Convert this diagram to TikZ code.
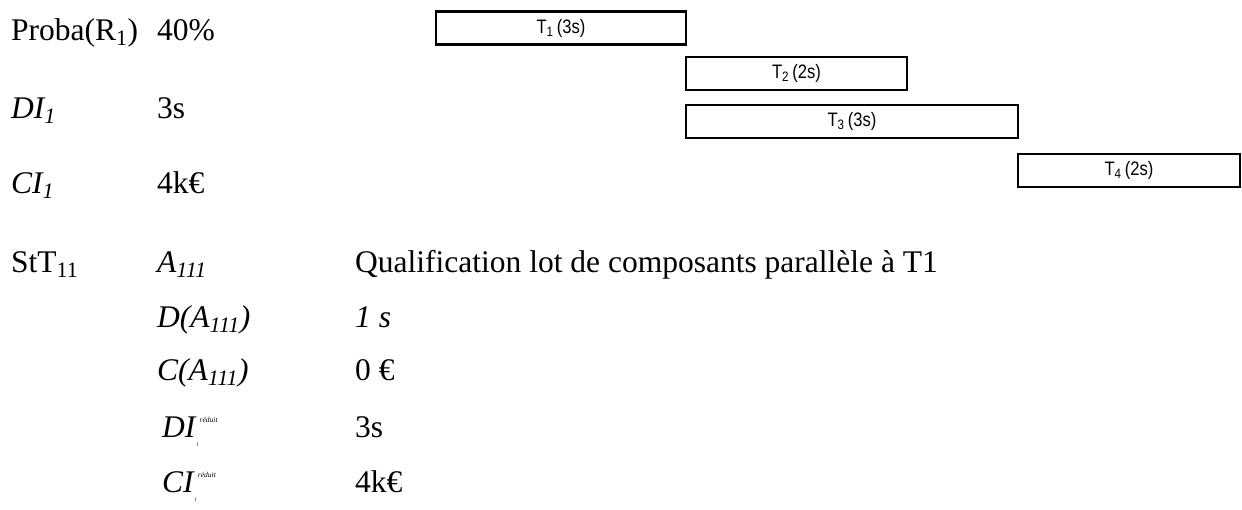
\documentclass[tikz,border=0pt]{standalone}
\usepackage{fontspec}
\setmainfont{Liberation Serif}
\newfontfamily\barfont[FakeStretch=0.85]{Liberation Sans}
\newcommand{\reduced}[1]{\textit{#1}\rlap{\raisebox{-9pt}{\fontsize{6}{6}\selectfont\itshape i}}\hspace{3pt}\raisebox{15pt}{\fontsize{7.5}{8}\selectfont\itshape réduit}}

\begin{document}
\begin{tikzpicture}[x=1pt,y=-1pt]
   \useasboundingbox (0,0) rectangle (1242,509);
   \tikzstyle{txt}=[anchor=base west, inner sep=0pt, font=\fontsize{31.5}{36}\selectfont]
   \tikzstyle{bar}=[rectangle, draw=black, line width=2.5pt, inner sep=0pt, minimum height=33pt, font=\barfont\fontsize{19.5}{22}\selectfont]
   \foreach \i/\d/\xa/\xb/\yc in {1/3/436/686/28, 2/2/686/907/73.5, 3/3/686/1018/121.5, 4/2/1018/1240/170.5} {
       \node[bar, minimum width={(\xb-\xa)*1pt}] (t\i) at ({(\xa+\xb)/2},\yc) {T\textsubscript{\i}\,(\d s)};
   }
   \node[txt] (proba) at (11,40) {Proba(R\textsubscript{1})};
   \node[txt] (probaval) at (157,40) {40\%};
   \node[txt] (di) at (11,118) {\textit{DI\textsubscript{1}}};
   \node[txt] (dival) at (157,118) {3s};
   \node[txt] (ci) at (11,193) {\textit{CI\textsubscript{1}}};
   \node[txt] (cival) at (157,193) {4k€};
   \node[txt] (stt) at (11,272) {StT\textsubscript{11}};
   \node[txt] (act) at (157,272) {\textit{A\textsubscript{111}}};
   \node[txt] (actval) at (355,272) {Qualification lot de composants parallèle à T1};
   \node[txt] (dur) at (157,327) {\textit{D(A\textsubscript{111})}};
   \node[txt] (durval) at (355,327) {\textit{1 s}};
   \node[txt] (cost) at (157,380) {\textit{C(A\textsubscript{111})}};
   \node[txt] (costval) at (355,380) {0 €};
   \node[txt] (dired) at (162,437) {\reduced{DI}};
   \node[txt] (diredval) at (355,437) {3s};
   \node[txt] (cired) at (162,492) {\reduced{CI}};
   \node[txt] (ciredval) at (355,492) {4k€};
\end{tikzpicture}
\end{document}
